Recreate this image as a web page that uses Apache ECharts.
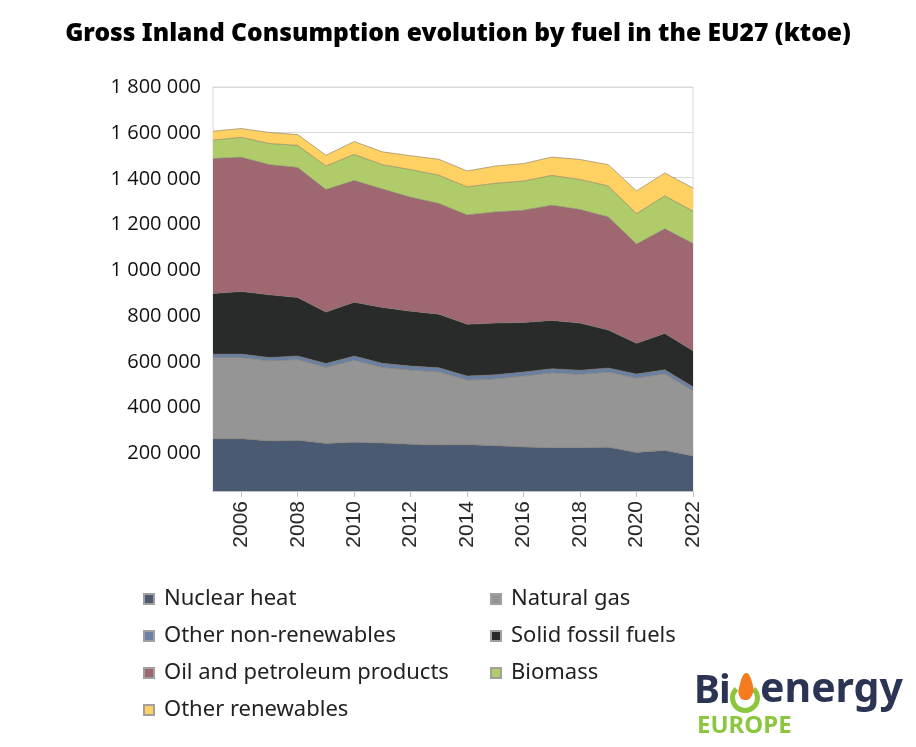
<!DOCTYPE html>
<html>
<head>
<meta charset="utf-8">
<script src="https://cdn.jsdelivr.net/npm/echarts@6/dist/echarts.min.js"></script>
<style>html,body{margin:0;padding:0;background:#fff;}#c{width:916px;height:747px;}</style>
</head>
<body>
<div id="c"></div>
<script>
const years = ['2005','2006','2007','2008','2009','2010','2011','2012','2013','2014','2015','2016','2017','2018','2019','2020','2021','2022'];
const yTickLabels = [200000,400000,600000,800000,1000000,1200000,1400000,1600000,1800000];
const nuclearHeat = [233000,233000,223000,226000,212000,217000,214000,208000,205000,206000,202000,196000,193000,193000,195000,172000,181000,156000];
const naturalGas = [362000,362000,357000,360000,339000,366000,337000,331000,326000,288000,298000,316000,334000,327000,335000,331000,341000,291000];
const otherNonRenewables = [15000,15000,15000,16000,17000,18000,18000,18000,18000,18000,18000,18000,18000,18000,18000,18000,18000,18000];
const solidFossilFuels = [270000,279000,279000,260000,229000,240000,249000,244000,239000,231000,230000,221000,215000,210000,169000,137000,162000,160000];
const oilPetroleum = [601000,598000,580000,579000,546000,542000,527000,508000,493000,487000,495000,500000,513000,506000,504000,442000,466000,478000];
const biomass = [82000,89000,94000,99000,105000,117000,109000,123000,126000,125000,128000,130000,133000,134000,138000,136000,147000,144000];
const otherRenewables = [40000,39000,49000,48000,48000,57000,57000,62000,71000,71000,77000,78000,82000,89000,95000,101000,102000,103000];

const seriesDefs = [
  ['Nuclear heat', nuclearHeat, '#4b5a73'],
  ['Natural gas', naturalGas, '#959595'],
  ['Other non-renewables', otherNonRenewables, '#6a81a3'],
  ['Solid fossil fuels', solidFossilFuels, '#292b2a'],
  ['Oil and petroleum products', oilPetroleum, '#9f6870'],
  ['Biomass', biomass, '#afcb6a'],
  ['Other renewables', otherRenewables, '#ffd162']
];

const chart = echarts.init(document.getElementById('c'), null, {renderer: 'canvas'});
const fmt = v => String(v).replace(/\B(?=(\d{3})+(?!\d))/g, ' ');
const legendText = {fontFamily: 'Noto Sans', fontSize: 22, color: '#222', lineHeight: 22, padding: [0,0,0,5]};

chart.setOption({
  animation: false,
  backgroundColor: '#fff',
  title: {
    text: 'Gross Inland Consumption evolution by fuel in the EU27 (ktoe)',
    left: 'center', top: 16,
    textStyle: {fontFamily: 'Noto Sans', fontWeight: 900, fontSize: 24.6, color: '#000'}
  },
  grid: {left: 213, right: 223, top: 87, bottom: 256, show: true, borderColor: '#d9d9d9', borderWidth: 1},
  legend: [
    {
      orient: 'vertical', left: 138, top: 583, itemGap: 15, itemWidth: 10, itemHeight: 10, icon: 'rect',
      data: ['Nuclear heat', 'Other non-renewables', 'Oil and petroleum products', 'Other renewables'],
      textStyle: legendText
    },
    {
      orient: 'vertical', left: 485, top: 583, itemGap: 15, itemWidth: 10, itemHeight: 10, icon: 'rect',
      data: ['Natural gas', 'Solid fossil fuels', 'Biomass'],
      textStyle: legendText
    }
  ],
  xAxis: {
    type: 'category', data: years, boundaryGap: false,
    axisLine: {show: true, lineStyle: {color: '#bfbfbf'}},
    axisTick: {show: true, interval: (i) => i % 2 === 1, length: 6, lineStyle: {color: '#bfbfbf'}},
    axisLabel: {interval: (i) => i % 2 === 1, rotate: 90, margin: 10, fontFamily: 'Liberation Sans', fontSize: 21, color: '#2a2a2a'},
    splitLine: {show: false}
  },
  yAxis: [
    {
      type: 'value', min: 0, max: 1800000, interval: 200000,
      axisLine: {show: false}, axisTick: {show: false},
      axisLabel: {show: false},
      splitLine: {lineStyle: {color: '#d9d9d9'}}
    },
    {
      type: 'value', position: 'left', min: 35300, max: 1801300,
      axisLine: {show: false}, axisTick: {show: false}, splitLine: {show: false},
      axisLabel: {customValues: yTickLabels, formatter: fmt, fontFamily: 'Open Sans', fontSize: 20, color: '#111', margin: 12}
    }
  ],
  series: seriesDefs.map(([name, data, color]) => ({
    name, type: 'line', stack: 'total', data, symbol: 'none', smooth: false, yAxisIndex: 0,
    itemStyle: {color, borderColor: '#a0a0a0', borderWidth: 1},
    lineStyle: {width: 1, color: 'rgba(120,110,100,0.55)'},
    areaStyle: {color, opacity: 1}
  })),
  graphic: [
    {type: 'text', x: 694, y: 672, style: {text: 'B', font: 'bold 39px "Noto Sans"', fill: '#2b3452'}},
    {type: 'text', x: 719, y: 672, style: {text: 'i', font: 'bold 39px "Noto Sans"', fill: '#2b3452'}},
    {type: 'arc', shape: {cx: 745, cy: 698, r: 12.5, startAngle: -Math.PI/2 + 0.75, endAngle: -Math.PI/2 - 0.75 + 2*Math.PI, clockwise: true},
      style: {stroke: '#8cc63f', lineWidth: 5, fill: null}},
    {type: 'polygon', shape: {points: [[746,673],[753,686],[751,697],[745,700],[740,697],[739,688]], smooth: 0.5},
      style: {fill: '#f47b20'}},
    {type: 'text', x: 760, y: 670, style: {text: 'energy', font: 'bold 41px "Noto Sans"', fill: '#2b3452'}},
    {type: 'text', x: 697, y: 714, style: {text: 'EUROPE', font: 'bold 24px "Noto Sans"', fill: '#8cc63f'}}
  ]
});
</script>
</body>
</html>
